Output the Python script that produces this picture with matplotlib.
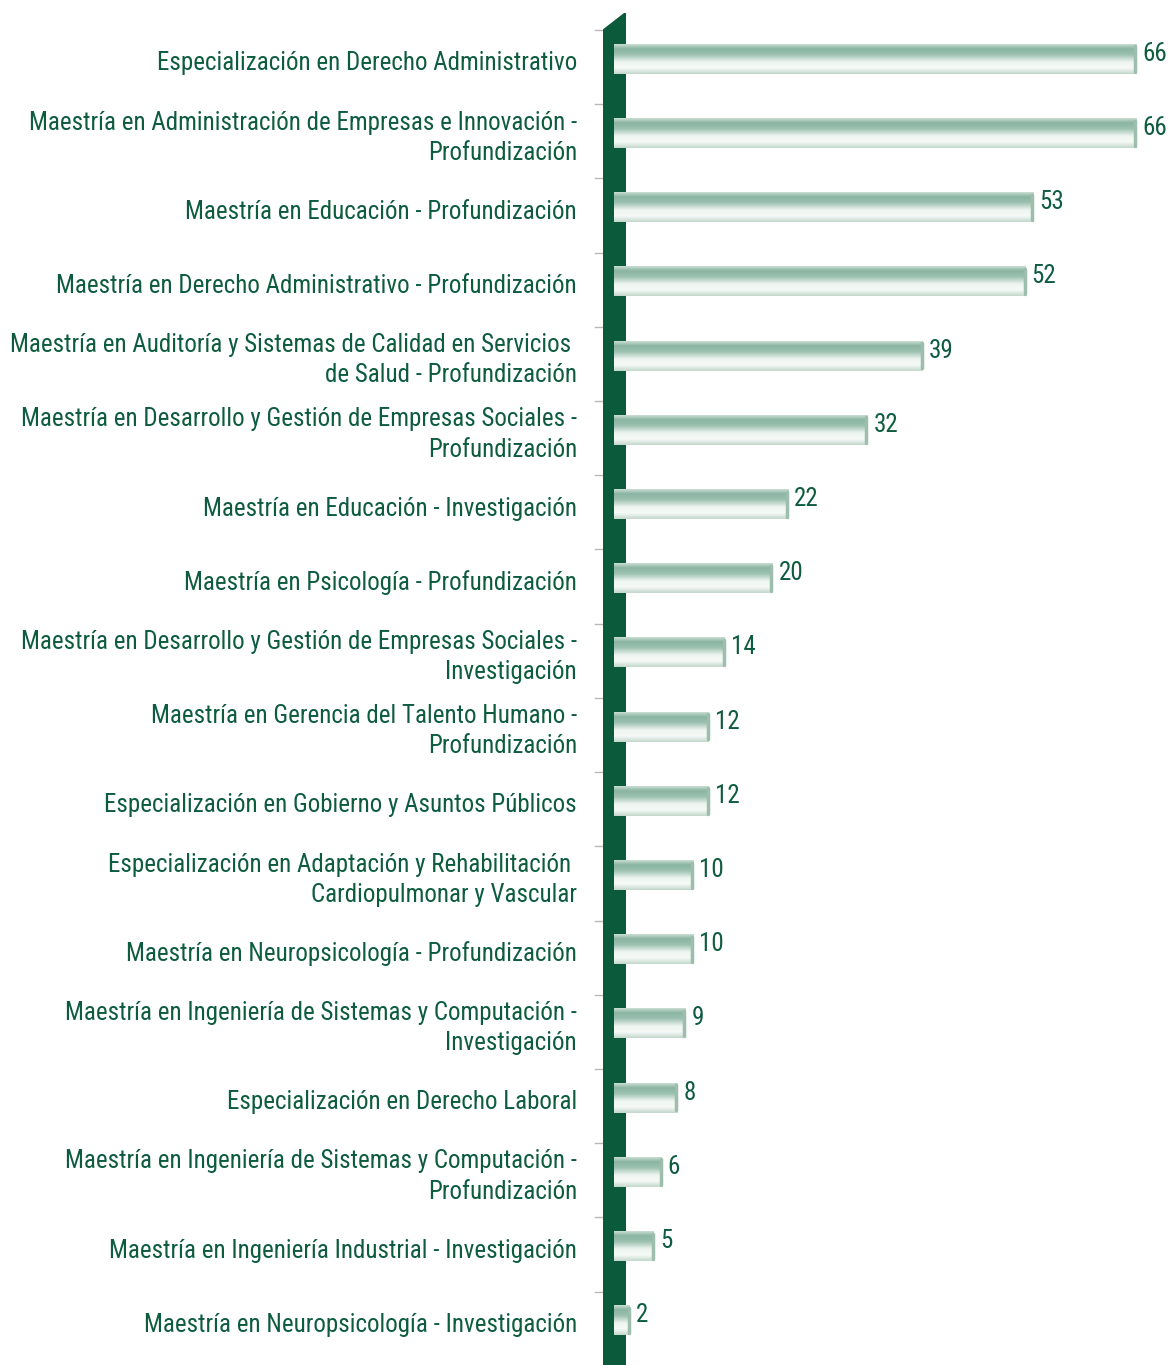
import numpy as np
import matplotlib.pyplot as plt
from matplotlib import font_manager
from matplotlib.colors import LinearSegmentedColormap
from matplotlib.patches import Polygon

# datos
programas = [
    "Especialización en Derecho Administrativo",
    "Maestría en Administración de Empresas e Innovación -\nProfundización",
    "Maestría en Educación - Profundización",
    "Maestría en Derecho Administrativo - Profundización",
    "Maestría en Auditoría y Sistemas de Calidad en Servicios \nde Salud - Profundización",
    "Maestría en Desarrollo y Gestión de Empresas Sociales -\nProfundización",
    "Maestría en Educación - Investigación",
    "Maestría en Psicología - Profundización",
    "Maestría en Desarrollo y Gestión de Empresas Sociales -\nInvestigación",
    "Maestría en Gerencia del Talento Humano -\nProfundización",
    "Especialización en Gobierno y Asuntos Públicos",
    "Especialización en Adaptación y Rehabilitación \nCardiopulmonar y Vascular",
    "Maestría en Neuropsicología - Profundización",
    "Maestría en Ingeniería de Sistemas y Computación -\nInvestigación",
    "Especialización en Derecho Laboral",
    "Maestría en Ingeniería de Sistemas y Computación -\nProfundización",
    "Maestría en Ingeniería Industrial - Investigación",
    "Maestría en Neuropsicología - Investigación",
]
valores = [66, 66, 53, 52, 39, 32, 22, 20, 14, 12, 12, 10, 10, 9, 8, 6, 5, 2]

verde = "#0b5a3c"
texto = "#0e5c3f"

# buscar una fuente condensada
instaladas = set(f.name for f in font_manager.fontManager.ttflist)
fuente = 'DejaVu Sans'
for n in ['Roboto Condensed', 'Archivo Narrow', 'PT Sans Narrow', 'Liberation Sans Narrow',
          'Open Sans Condensed', 'Fira Sans Condensed', 'Encode Sans Condensed', 'Pragati Narrow']:
    if n in instaladas:
        fuente = n
        break
plt.rcParams['font.family'] = [fuente, 'DejaVu Sans']

fig = plt.figure(figsize=(11.71, 13.65), dpi=100)
ax = fig.add_axes([614 / 1171, 0, 557 / 1171, 1])
ax.set_xlim(0, 557 / 7.91)
ax.set_ylim(17.6, -0.795)
ax.axis('off')

# degradado vertical de las barras
cmap = LinearSegmentedColormap.from_list("barra", [
    (0.0, "#c9ddd3"), (0.15, "#8ab5a2"), (0.35, "#9cc1b0"),
    (0.6, "#eef5f1"), (0.8, "#f6faf7"), (1.0, "#c3d8cd")])
grad = np.linspace(0, 1, 64).reshape(-1, 1)

h = 0.40
bars = ax.barh(range(len(valores)), valores, height=h, color='none', zorder=2)
for b, v in zip(bars, valores):
    x0, y0 = b.get_x(), b.get_y()
    ax.imshow(grad, cmap=cmap, aspect='auto', zorder=2,
              extent=[x0, x0 + v, y0 + h, y0], interpolation='bilinear')
    ax.plot([x0 + v - 0.1, x0 + v - 0.1], [y0 + 0.03, y0 + h - 0.03],
            color="#9dbdad", lw=2.5, solid_capstyle='round', zorder=3)
    ax.text(v + 0.8, b.get_y() + h / 2 - 0.07, str(v), va='center', ha='left',
            fontsize=18, color=texto)

# pared verde del eje
px = 1 / 7.91
wall = Polygon([(-11 * px, 17.7), (-11 * px, -0.4), (10 * px, -0.62),
                (12 * px, -0.62), (12 * px, 17.7)],
               closed=True, facecolor=verde, edgecolor='none', zorder=1,
               clip_on=False)
ax.add_patch(wall)
for i in range(len(valores)):
    ax.plot([-19 * px, -11 * px], [i - 0.39, i - 0.39], color="#b8b8b8",
            lw=1, clip_on=False, zorder=0)

# etiquetas
for i, p in enumerate(programas):
    ax.text(-37 * px, i + 0.06, p, ha='right', va='center', fontsize=18,
            color=texto, linespacing=1.32, multialignment='right')

fig.savefig("out.png", dpi=100)
